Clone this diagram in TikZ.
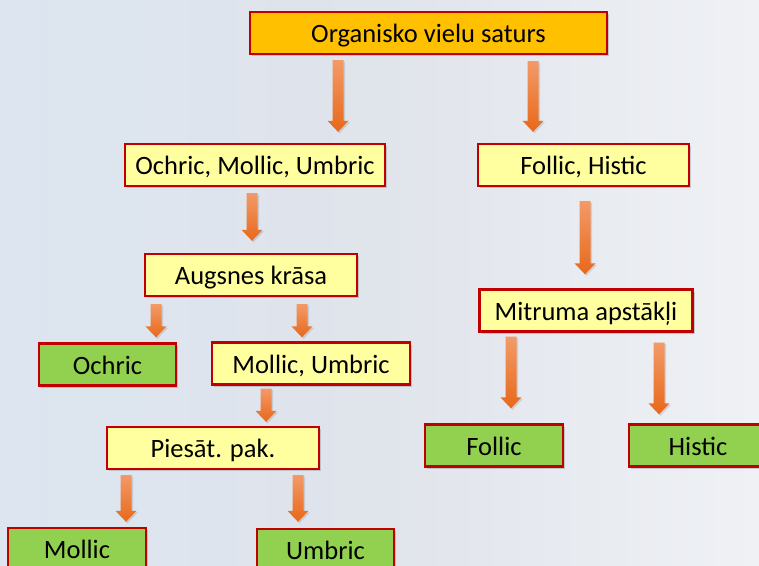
\documentclass[tikz,border=0pt]{standalone}
\usepackage{fontspec}
\setmainfont{Carlito}
\usetikzlibrary{shadows,calc}
\definecolor{bord}{HTML}{C00000}
\definecolor{orgfill}{HTML}{FFC000}
\definecolor{yelfill}{HTML}{FFFF9F}
\definecolor{grnfill}{HTML}{92D050}
\definecolor{arrtop}{HTML}{F39A68}
\definecolor{arrbot}{HTML}{E8681A}
\definecolor{bgL}{HTML}{DCE5F0}
\definecolor{bgM}{HTML}{E0E4EB}
\definecolor{bgR}{HTML}{EFF1F5}
\newcommand\barrow[5]{% from, to, x, top gap, bottom gap
  \coordinate (bx) at (#3,0);
  \path ($(bx |- #1.south)+(0,-#4)$) coordinate (bs)
        ($(bx |- #2.north)+(0,#5)$) coordinate (be);
  \shade[top color=arrtop, bottom color=arrbot,
    drop shadow={opacity=0.25,shadow xshift=1.5pt,shadow yshift=-1.5pt}]
    let \p1=(bs), \p2=(be) in
    (\x1-5.5,\y1) -- (\x1+5.5,\y1) -- (\x1+5.5,\y2+11) -- (\x1+10.5,\y2+11)
    -- (\x1,\y2) -- (\x1-10.5,\y2+11) -- (\x1-5.5,\y2+11) -- cycle;
}
\begin{document}
\begin{tikzpicture}[x=1pt,y=1pt,
  box/.style={draw=bord, line width=2.4pt, minimum height=42, inner sep=0pt,
    text height=23pt, text depth=3.2pt,
    font=\fontsize{26.5}{30}\selectfont,
    drop shadow={opacity=0.35,shadow xshift=2pt,shadow yshift=-2pt}},
  obox/.style={box, fill=orgfill},
  ybox/.style={box, fill=yelfill},
  gbox/.style={box, fill=grnfill}]
\useasboundingbox (0,0) rectangle (759,-565);
\shade[left color=bgL, right color=bgR, middle color=bgM] (0,0) rectangle (759,-565);
\node[obox, minimum width=357] (org) at (428.5,-33) {Organisko vielu saturs};
\node[ybox, minimum width=260] (omu) at (255,-165) {Ochric, Mollic, Umbric};
\node[ybox, minimum width=211] (fh) at (583.5,-165) {Follic, Histic};
\node[ybox, minimum width=212] (ak) at (251,-275) {Augsnes krāsa};
\node[ybox, minimum width=213] (ma) at (586,-310.5) {Mitruma apstākļi};
\node[gbox, minimum width=137] (och) at (107.5,-364.5) {Ochric};
\node[ybox, minimum width=198] (mu) at (311,-363.5) {Mollic, Umbric};
\node[ybox, minimum width=212] (pp) at (213,-448) {Piesāt. pak.};
\node[gbox, minimum width=138] (mol) at (77,-549) {Mollic};
\node[gbox, minimum width=137] (umb) at (325.5,-550) {Umbric};
\node[gbox, minimum width=138] (fol) at (494,-445.5) {Follic};
\node[gbox, minimum width=138] (his) at (698,-445.5) {Histic};
\barrow{org}{omu}{338}{5}{11}
\barrow{org}{fh}{533}{6}{11}
\barrow{omu}{ak}{252}{6}{12}
\barrow{fh}{ma}{585}{14}{14}
\barrow{ak}{och}{156}{7}{5}
\barrow{ak}{mu}{302}{7}{4}
\barrow{mu}{pp}{266}{3}{4}
\barrow{pp}{mol}{126}{5}{5}
\barrow{pp}{umb}{298}{5}{6}
\barrow{ma}{fol}{511}{4}{15}
\barrow{ma}{his}{659}{10}{9}
\end{tikzpicture}
\end{document}
